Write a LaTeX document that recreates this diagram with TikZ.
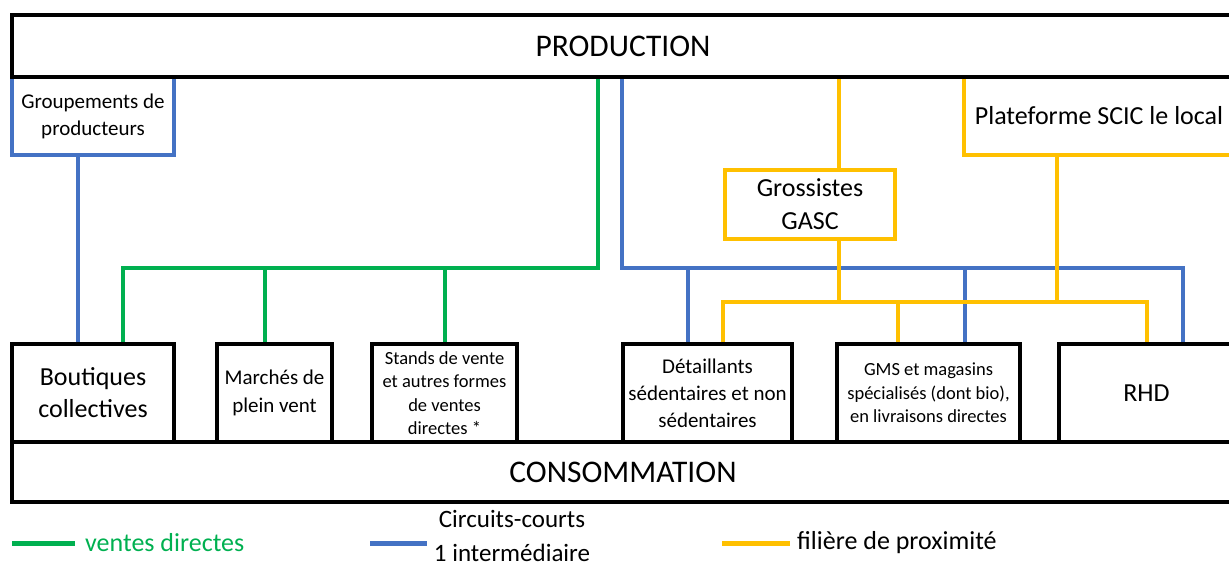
\documentclass[tikz,border=0pt]{standalone}
\usepackage{fontspec}
\setmainfont{Carlito}
\usetikzlibrary{positioning,calc}
\definecolor{VenteVerte}{HTML}{00B050}
\definecolor{CourtBleu}{HTML}{4472C4}
\definecolor{ProxJaune}{HTML}{FFC000}

\begin{document}
\begin{tikzpicture}[
		x=1pt, y=-1pt,
		framed/.style={draw, line width=4pt, inner sep=0pt, anchor=north west, align=center},
		direct/.style={draw=VenteVerte, line width=4pt},
		court/.style={draw=CourtBleu, line width=4pt},
		proxi/.style={draw=ProxJaune, line width=4pt},
		big/.style={font=\fontsize{31.5}{38}\selectfont},
		mid/.style={font=\fontsize{26}{33}\selectfont},
		small/.style={font=\fontsize{21}{27}\selectfont},
		tiny/.style={font=\fontsize{18.5}{23.5}\selectfont},
		legend/.style={mid, inner sep=0pt}
	]
		\useasboundingbox (0,0) rectangle (1229,568);
		
		% intermediaires
		\node[framed, draw=CourtBleu, small, minimum width=162, minimum height=78] at(10,75) (grp) {Groupements de\\producteurs};
		\node[framed, draw=ProxJaune, mid, minimum width=270, minimum height=78] at(962,75) (plat) {Plateforme SCIC le local};
		\node[framed, draw=ProxJaune, mid, minimum width=170, minimum height=69] at(723,168) (gros) {Grossistes\\GASC};
		
		\node[framed, big, minimum width=1222, minimum height=62] at(10,13) (prod) {PRODUCTION};
		
		% points de vente
		\node[framed, mid, text width=150, minimum width=162, minimum height=98, font=\fontsize{26}{32}\selectfont] at(10,342) (bout) {Boutiques\\collectives};
		\node[framed, small, minimum width=115, minimum height=98, font=\fontsize{21}{28}\selectfont] at(215,342) (mar) {Marchés de\\plein vent};
		\node[framed, tiny, minimum width=145, minimum height=98] at(370,342) (stand) {Stands de vente\\et autres formes\\de ventes\\directes *};
		\node[framed, small, minimum width=169, minimum height=98] at(621,342) (det) {Détaillants\\sédentaires et non\\sédentaires};
		\node[framed, tiny, minimum width=183, minimum height=98] at(835,342) (gms) {GMS et magasins\\spécialisés (dont bio),\\en livraisons directes};
		\node[framed, mid, minimum width=175, minimum height=98] at(1057,342) (rhd) {RHD};
		
		\node[framed, big, minimum width=1222, minimum height=60] at(10,440) (cons) {CONSOMMATION};
		
		\coordinate (gbus) at (598,268);
		\coordinate (bbus) at (622,268);
		\coordinate (ybus) at (800,302);
		
		% ventes directes
		\draw[direct] (prod.south -| gbus) -- (gbus) -| ([xshift=30pt]bout.north);
		\draw[direct] ([xshift=-10pt]mar.north) -- ([xshift=-10pt]mar.north |- gbus);
		\draw[direct] (stand.north) -- (stand.north |- gbus);
		
		% circuits-courts
		\draw[court] ([xshift=-15pt]grp.south) -- ([xshift=-15pt]bout.north);
		\draw[court] (prod.south -| bbus) -- (bbus) -| ([xshift=36pt]rhd.north);
		\draw[court] ([xshift=-20pt]det.north) -- ([xshift=-20pt]det.north |- bbus);
		\draw[court] ([xshift=36pt]gms.north) -- ([xshift=36pt]gms.north |- bbus);
		
		% proximite
		\draw[proxi] ([xshift=29pt]gros.north |- prod.south) -- ([xshift=29pt]gros.north);
		\draw[proxi] ([xshift=29pt]gros.south) -- ([xshift=29pt]gros.south |- ybus);
		\draw[proxi] ([xshift=-42pt]plat.south) -- ([xshift=-42pt]plat.south |- ybus);
		\draw[proxi] ([xshift=15pt]det.north) |- (ybus -| rhd.north) -- (rhd.north);
		\draw[proxi] ([xshift=-31pt]gms.north) -- ([xshift=-31pt]gms.north |- ybus);
		
		% legende
		\node[legend, text=VenteVerte, anchor=west] at(85,543) (lvd) {ventes directes};
		\node[legend, align=center, font=\fontsize{25}{34}\selectfont] at(512,536) (lcc) {Circuits-courts\\1 intermédiaire};
		\node[legend, anchor=west] at(797,543) (lfp) {filière de proximité};
		\coordinate (lvd0) at (12,543);
		\coordinate (lcc0) at (370,543);
		\coordinate (lfp0) at (722,543);
		\draw[direct, line width=5pt] (lvd0) -- ([xshift=-10pt]lvd0 -| lvd.west);
		\draw[court, line width=5pt] (lcc0) -- ([xshift=-7pt]lcc0 -| lcc.west);
		\draw[proxi, line width=5pt] (lfp0) -- ([xshift=-7pt]lfp0 -| lfp.west);
	\end{tikzpicture}
\end{document}
